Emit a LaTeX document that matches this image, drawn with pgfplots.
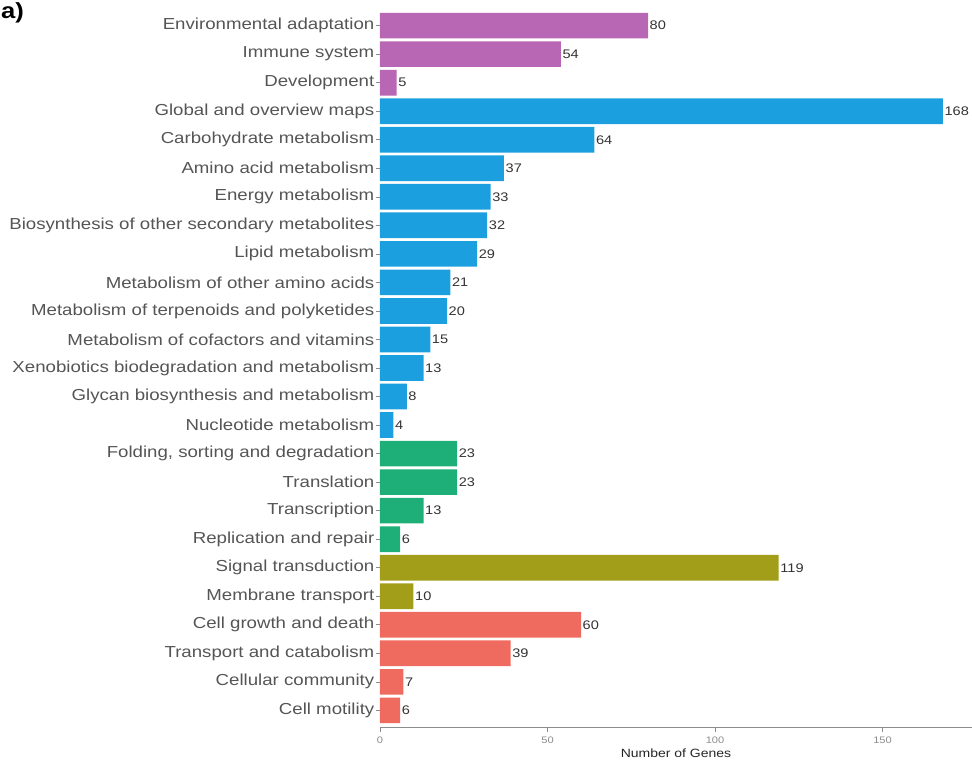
\documentclass[border=0pt]{standalone}
\usepackage{pgfplots}
\pgfplotsset{compat=1.18}
\usepackage{fontspec}
\setmainfont{Liberation Sans}[FakeStretch=1.17]
\definecolor{cpur}{HTML}{B767B4}
\definecolor{cblu}{HTML}{1C9FDF}
\definecolor{cgrn}{HTML}{1EAE77}
\definecolor{colv}{HTML}{A39E19}
\definecolor{cred}{HTML}{EF6B60}
\definecolor{labgray}{HTML}{555555}
\definecolor{valgray}{HTML}{333333}
\begin{document}
\begin{tikzpicture}
\begin{axis}[
  name=ax,
  scale only axis, width=592bp, height=719bp,
  xmin=0, xmax=176.7, ymin=0.4, ymax=25.6,
  xbar, bar width=0.9, bar shift=0pt,
  axis x line*=bottom, axis y line*=left,
  y axis line style={draw=none},
  x axis line style={draw=black!45, line width=0.8bp},
  tick align=outside, major tick length=4bp,
  every tick/.style={draw=black!45, line width=0.6bp},
  xtick={0,50,100,150},
  ytick={1,...,25},
  yticklabels={Cell motility, Cellular community, Transport and catabolism, Cell growth and death, Membrane transport, Signal transduction, Replication and repair, Transcription, Translation, {Folding, sorting and degradation}, Nucleotide metabolism, Glycan biosynthesis and metabolism, Xenobiotics biodegradation and metabolism, Metabolism of cofactors and vitamins, Metabolism of terpenoids and polyketides, Metabolism of other amino acids, Lipid metabolism, Biosynthesis of other secondary metabolites, Energy metabolism, Amino acid metabolism, Carbohydrate metabolism, Global and overview maps, Development, Immune system, Environmental adaptation},
  yticklabel style={font=\fontsize{16}{16}\selectfont, text=labgray, inner sep=1.5bp},
  xticklabel style={font=\fontsize{9.5}{10}\selectfont, text=black!45, yshift=-1.5bp},
  /pgf/number format/assume math mode=true,
  xlabel={Number of Genes},
  xlabel style={font=\fontsize{12}{12}\selectfont, text=black!85, yshift=1bp},
  nodes near coords,
  point meta=x,
  nodes near coords style={font=\fontsize{12.5}{13}\selectfont, text=valgray, anchor=west, inner sep=1.5bp},
]
\addplot[fill=cpur, draw=none] coordinates {(80,25) (54,24) (5,23)};
\addplot[fill=cblu, draw=none] coordinates {(168,22) (64,21) (37,20) (33,19) (32,18) (29,17) (21,16) (20,15) (15,14) (13,13) (8,12) (4,11)};
\addplot[fill=cgrn, draw=none] coordinates {(23,10) (23,9) (13,8) (6,7)};
\addplot[fill=colv, draw=none] coordinates {(119,6) (10,5)};
\addplot[fill=cred, draw=none] coordinates {(60,4) (39,3) (7,2) (6,1)};
\end{axis}
\node[anchor=base west, inner sep=0pt, font=\bfseries\fontsize{22}{22}\selectfont] at ([xshift=-379bp, yshift=-10bp]ax.north west) {a)};
\pgfresetboundingbox
\path[use as bounding box] ([xshift=-380bp,yshift=-35.7bp]ax.south west) rectangle ([yshift=8.5bp]ax.north east);
\end{tikzpicture}
\end{document}
